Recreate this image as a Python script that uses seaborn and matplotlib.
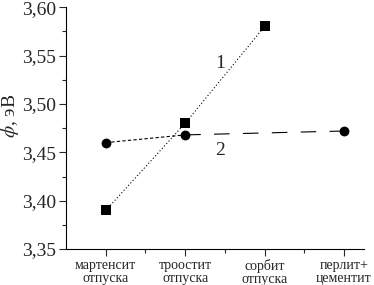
import pandas as pd
import seaborn as sns
import matplotlib
matplotlib.use('Agg')
import matplotlib.pyplot as plt
from matplotlib.ticker import FuncFormatter, MultipleLocator, FixedLocator

#Data
categories = ['мартенсит\nотпуска', 'троостит\nотпуска', 'сорбит\nотпуска', 'перлит+\nцементит']
curve1_x = [0, 1, 2]
curve1_y = [3.39, 3.48, 3.58]
curve2_x = [0, 1, 3]
curve2_y = [3.46, 3.468, 3.472]

df1 = pd.DataFrame({'x': curve1_x, 'y': curve1_y})
df2 = pd.DataFrame({'x': curve2_x, 'y': curve2_y})

#Plot params
sns.set_style('ticks')
plt.rcParams['font.family'] = ['Liberation Serif', 'DejaVu Serif']
plt.rcParams['mathtext.fontset'] = 'stix'

fig = plt.figure(figsize=(3.74, 2.85), dpi=100)
ax = fig.add_axes([0.1765, 0.126, 0.7965, 0.849])

sns.lineplot(x='x', y='y', data=df1, ax=ax, color='black', linewidth=0.8,
             linestyle=(0, (1, 2)), marker='s', markersize=6.5, markeredgewidth=0)
# curve 2: short dashes first, long dashes after
sns.lineplot(x='x', y='y', data=df2.iloc[:2], ax=ax, color='black', linewidth=0.8,
             linestyle=(0, (3, 2)))
sns.lineplot(x='x', y='y', data=df2.iloc[1:], ax=ax, color='black', linewidth=0.8,
             linestyle=(0, (14, 12)))
sns.scatterplot(x='x', y='y', data=df2, ax=ax, color='black', marker='o', s=50,
                linewidth=0, zorder=3)

ax.text(1.44, 3.542, '1', fontsize=14, ha='center', va='center')
ax.text(1.44, 3.452, '2', fontsize=14, ha='center', va='center')

ax.set_xlim(-0.5, 3.25)
ax.set_ylim(3.35, 3.60)
ax.xaxis.set_major_locator(FixedLocator([0, 1, 2, 3]))
ax.xaxis.set_minor_locator(FixedLocator([0.5, 1.5, 2.5]))
ax.set_xticklabels(categories, fontsize=10, linespacing=1.0)
ax.yaxis.set_major_locator(MultipleLocator(0.05))
ax.yaxis.set_minor_locator(MultipleLocator(0.025))
ax.yaxis.set_major_formatter(FuncFormatter(lambda v, p: ('%.2f' % v).replace('.', ',')))
ax.tick_params(axis='y', labelsize=14, direction='out', length=5, width=0.8, pad=2)
ax.tick_params(axis='x', direction='out', length=5, width=0.8, pad=2)
ax.tick_params(which='minor', direction='out', length=3, width=0.8)

ax.set_xlabel('')
ax.set_ylabel(r'$\phi$, эВ', fontsize=14)
ax.yaxis.set_label_coords(-0.15, 0.55)
for s in ['left', 'bottom']:
    ax.spines[s].set_linewidth(0.8)
    ax.spines[s].set_color('black')
sns.despine(ax=ax)

plt.savefig('out.png', dpi=100)
